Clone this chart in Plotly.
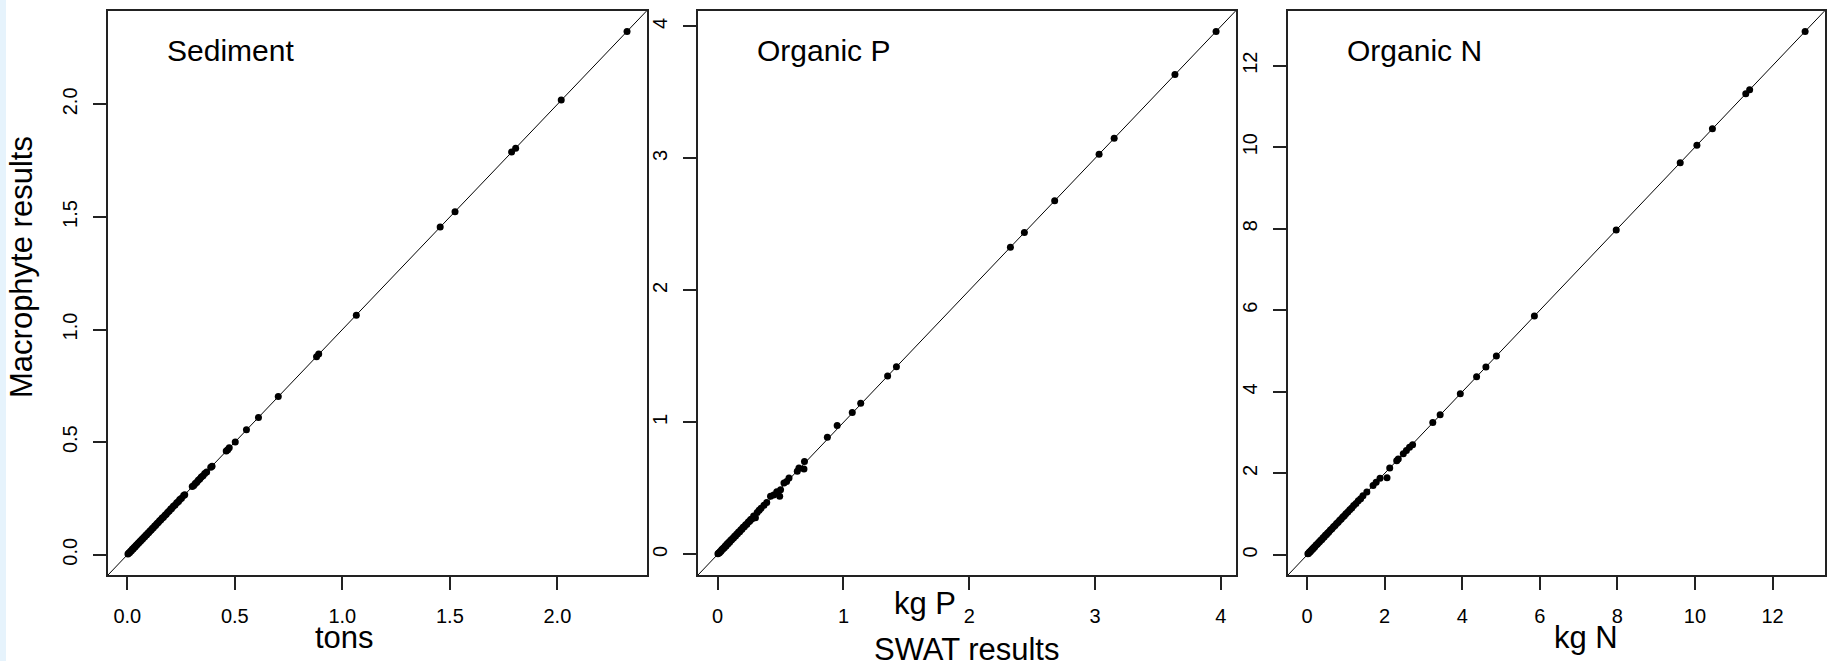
import plotly.graph_objects as go

# ---------------- data ----------------
panel_titles = ["Sediment", "Organic P", "Organic N"]
unit_labels = ["tons", "kg P", "kg N"]
x_title = "SWAT results"
y_title = "Macrophyte results"

sed_swat = [0.003, 0.007, 0.011, 0.015, 0.019, 0.023, 0.027, 0.031, 0.036, 0.040, 0.044, 0.049,
            0.053, 0.058, 0.062, 0.067, 0.071, 0.076, 0.081, 0.086, 0.090, 0.095, 0.100, 0.105,
            0.111, 0.116, 0.121, 0.127, 0.132, 0.138, 0.144, 0.150, 0.156, 0.162, 0.168, 0.175,
            0.181, 0.188, 0.195, 0.202, 0.206, 0.214, 0.222, 0.230, 0.238, 0.244, 0.252, 0.262,
            0.267, 0.302, 0.309, 0.316, 0.323, 0.330, 0.337, 0.344, 0.352, 0.360, 0.369, 0.388,
            0.394, 0.460, 0.467, 0.474, 0.502, 0.554, 0.610, 0.702, 0.880, 0.890, 1.065, 1.455,
            1.524, 1.787, 1.806, 2.018, 2.324]
sed_macro = [0.003, 0.008, 0.010, 0.016, 0.018, 0.024, 0.026, 0.032, 0.035, 0.041, 0.043, 0.050,
             0.052, 0.059, 0.061, 0.068, 0.070, 0.077, 0.080, 0.087, 0.089, 0.096, 0.099, 0.106,
             0.110, 0.117, 0.120, 0.128, 0.131, 0.139, 0.143, 0.151, 0.155, 0.163, 0.167, 0.176,
             0.180, 0.189, 0.194, 0.203, 0.205, 0.215, 0.221, 0.231, 0.237, 0.245, 0.251, 0.263,
             0.266, 0.303, 0.308, 0.317, 0.322, 0.331, 0.336, 0.345, 0.351, 0.361, 0.368, 0.389,
             0.393, 0.461, 0.466, 0.475, 0.501, 0.555, 0.609, 0.703, 0.879, 0.891, 1.064, 1.456,
             1.523, 1.788, 1.805, 2.019, 2.324]

p_swat = [0.002, 0.008, 0.014, 0.020, 0.026, 0.033, 0.040, 0.046, 0.053, 0.060, 0.067, 0.074,
          0.081, 0.088, 0.095, 0.103, 0.110, 0.118, 0.126, 0.134, 0.142, 0.150, 0.158, 0.166,
          0.175, 0.184, 0.193, 0.202, 0.212, 0.222, 0.232, 0.243, 0.254, 0.262, 0.272, 0.286,
          0.300, 0.314, 0.330, 0.345, 0.368, 0.390, 0.420, 0.445, 0.470, 0.493, 0.500, 0.527,
          0.548, 0.567, 0.633, 0.646, 0.686, 0.690, 0.872, 0.950, 1.070, 1.137, 1.351, 1.421,
          2.327, 2.438, 2.679, 3.032, 3.152, 3.635, 3.962]
p_macro = [0.004, 0.010, 0.012, 0.022, 0.024, 0.036, 0.038, 0.049, 0.050, 0.063, 0.064, 0.078,
           0.079, 0.091, 0.092, 0.107, 0.108, 0.121, 0.123, 0.137, 0.139, 0.153, 0.156, 0.169,
           0.172, 0.187, 0.190, 0.205, 0.209, 0.225, 0.229, 0.246, 0.251, 0.264, 0.268, 0.290,
           0.277, 0.318, 0.334, 0.349, 0.372, 0.393, 0.440, 0.449, 0.474, 0.440, 0.490, 0.541,
           0.552, 0.579, 0.629, 0.654, 0.647, 0.704, 0.888, 0.976, 1.074, 1.145, 1.351, 1.421,
           2.327, 2.438, 2.679, 3.032, 3.152, 3.635, 3.962]

n_swat = [0.02, 0.04, 0.06, 0.08, 0.10, 0.12, 0.14, 0.16, 0.18, 0.20, 0.23, 0.26, 0.29, 0.32,
          0.35, 0.38, 0.41, 0.44, 0.47, 0.50, 0.53, 0.56, 0.60, 0.64, 0.68, 0.72, 0.76, 0.80,
          0.84, 0.88, 0.92, 0.96, 1.00, 1.05, 1.10, 1.15, 1.20, 1.26, 1.32, 1.38, 1.44, 1.54,
          1.70, 1.78, 1.88, 2.06, 2.13, 2.31, 2.35, 2.48, 2.56, 2.64, 2.72, 3.24, 3.43, 3.95,
          4.37, 4.61, 4.88, 5.86, 7.97, 9.62, 10.05, 10.45, 11.31, 11.41, 12.84]
n_macro = [0.03, 0.04, 0.07, 0.08, 0.11, 0.12, 0.15, 0.16, 0.19, 0.20, 0.24, 0.26, 0.30, 0.32,
           0.36, 0.38, 0.42, 0.44, 0.48, 0.50, 0.54, 0.56, 0.61, 0.64, 0.69, 0.72, 0.77, 0.80,
           0.85, 0.88, 0.93, 0.96, 1.01, 1.05, 1.11, 1.15, 1.21, 1.26, 1.33, 1.38, 1.45, 1.54,
           1.70, 1.78, 1.88, 1.89, 2.13, 2.31, 2.35, 2.48, 2.56, 2.64, 2.70, 3.25, 3.44, 3.95,
           4.37, 4.61, 4.88, 5.86, 7.97, 9.62, 10.05, 10.45, 11.31, 11.41, 12.84]

tick_steps = [0.5, 1, 2]
tick_formats = [".1f", "d", "d"]

# ---------------- layout geometry (px) ----------------
W, H = 1828, 661
panels_px = [(108, 647), (698, 1236), (1288, 1825)]
top_px, bot_px = 10.5, 575
FONT = "Liberation Sans, Arial, sans-serif"

def px_x(p):
    return p / W

def px_y(p):
    return 1 - p / H

fig = go.Figure()
series = [(sed_swat, sed_macro), (p_swat, p_macro), (n_swat, n_macro)]

layout = dict(
    width=W, height=H,
    margin=dict(l=0, r=0, t=0, b=0),
    paper_bgcolor="white", plot_bgcolor="white",
    showlegend=False,
    font=dict(family=FONT, color="black"),
)

annotations = []
for i, ((xs, ys), step, fmt) in enumerate(zip(series, tick_steps, tick_formats)):
    k = "" if i == 0 else str(i + 1)
    lo = min(min(xs), min(ys))
    hi = max(max(xs), max(ys))
    r = hi - lo
    rng = [lo - 0.04 * r, hi + 0.04 * r]
    # identity line
    fig.add_trace(go.Scatter(x=rng, y=rng, mode="lines",
                             line=dict(color="black", width=1),
                             xaxis="x" + k, yaxis="y" + k, hoverinfo="skip"))
    fig.add_trace(go.Scatter(x=xs, y=ys, mode="markers",
                             marker=dict(color="black", size=7),
                             xaxis="x" + k, yaxis="y" + k))
    axcommon = dict(range=rng, showgrid=False, zeroline=False, showline=True,
                    mirror=True, linecolor="#222", linewidth=2,
                    ticks="outside", ticklen=13, tickwidth=1.6, tickcolor="#222",
                    dtick=step, tick0=0, tickformat=fmt,
                    tickfont=dict(family=FONT, size=20, color="black"))
    x0, x1 = panels_px[i]
    layout["xaxis" + k] = dict(axcommon, domain=[px_x(x0), px_x(x1)],
                               anchor="y" + k, ticklabelstandoff=9)
    layout["yaxis" + k] = dict(axcommon, domain=[px_y(bot_px), px_y(top_px)],
                               anchor="x" + k, tickangle=-90, ticklabelstandoff=8)
    annotations.append(dict(text=panel_titles[i], x=px_x(x0 + 57), y=px_y(51),
                            xref="paper", yref="paper", xanchor="left", yanchor="middle",
                            showarrow=False, font=dict(family=FONT, size=30, color="black")))

unit_pos = [(344, 637), (925, 603), (1586, 637)]
for lab, (ux, uy) in zip(unit_labels, unit_pos):
    annotations.append(dict(text=lab, x=px_x(ux), y=px_y(uy), xref="paper", yref="paper",
                            xanchor="center", yanchor="middle", showarrow=False,
                            font=dict(family=FONT, size=31, color="black")))
annotations.append(dict(text=x_title, x=px_x(966), y=px_y(649), xref="paper", yref="paper",
                        xanchor="center", yanchor="middle", showarrow=False,
                        font=dict(family=FONT, size=31, color="black")))
annotations.append(dict(text=y_title, x=px_x(22), y=px_y(267), xref="paper", yref="paper",
                        xanchor="center", yanchor="middle", showarrow=False, textangle=-90,
                        font=dict(family=FONT, size=31, color="black")))
layout["annotations"] = annotations
layout["shapes"] = [dict(type="rect", xref="paper", yref="paper", x0=0, x1=px_x(6),
                         y0=0, y1=1, fillcolor="#e6f3fc", line=dict(width=0), layer="below")]

fig.update_layout(**layout)
fig.write_html("out.html")
